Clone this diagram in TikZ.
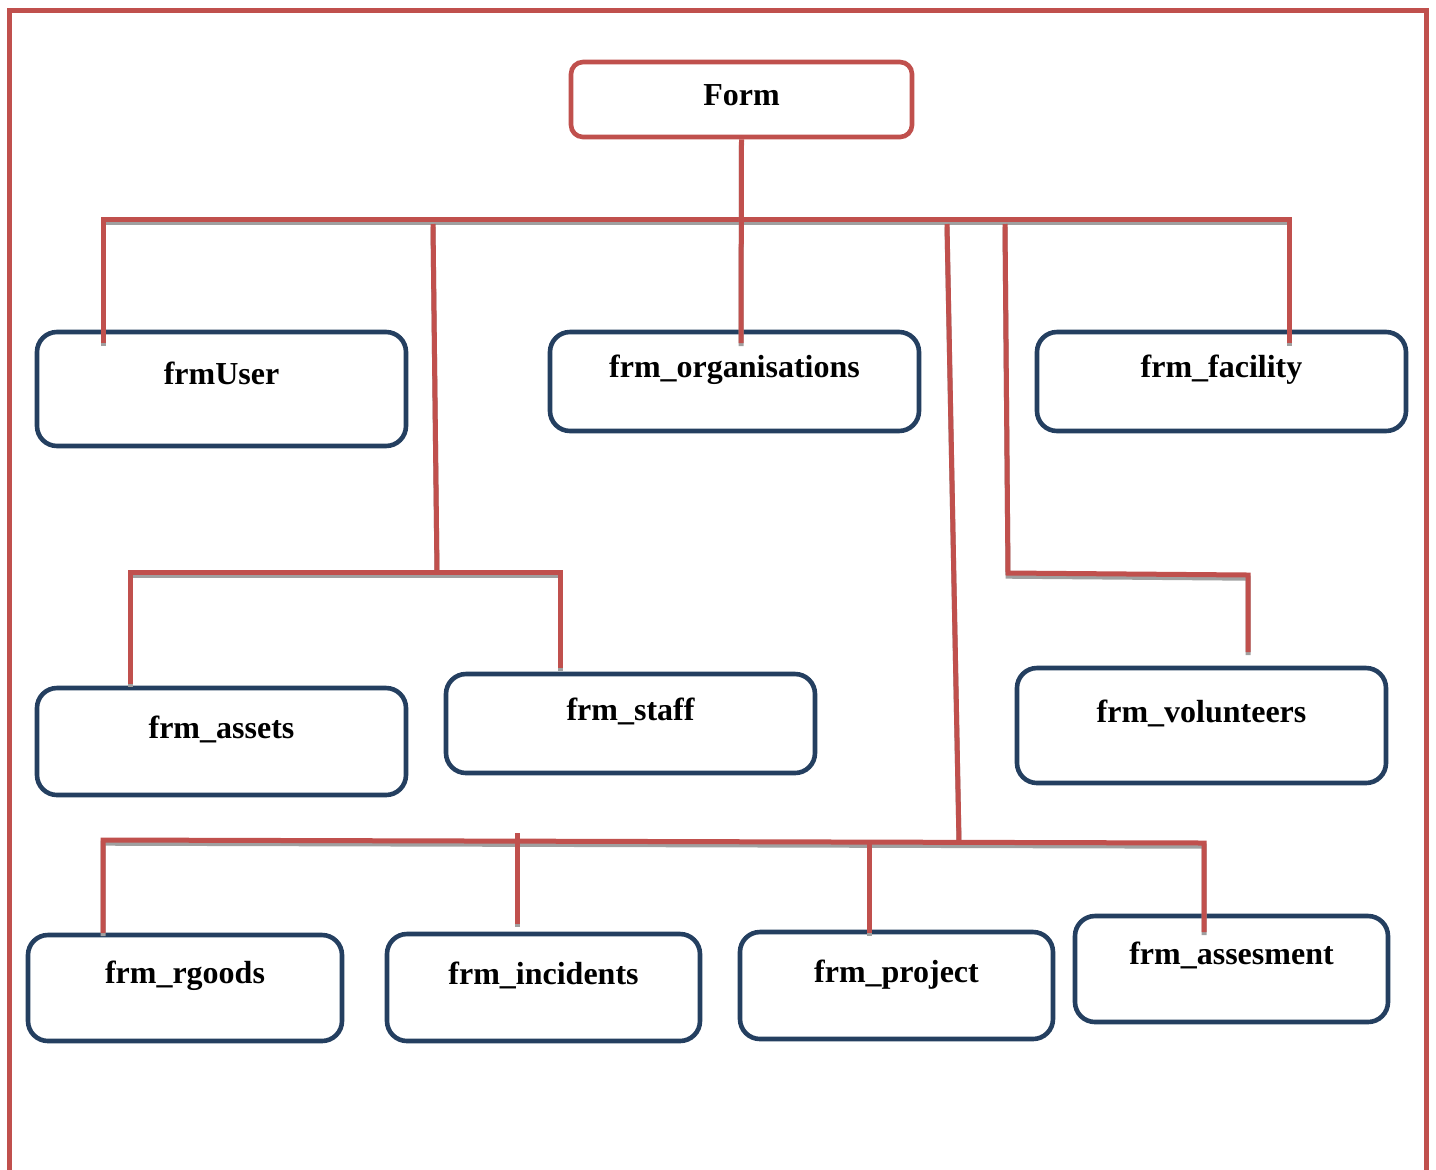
\documentclass[tikz,border=0pt]{standalone}
\usepackage{fontspec}
\setmainfont{Liberation Serif}
\definecolor{linered}{HTML}{C0504D}
\definecolor{boxnavy}{HTML}{243F60}
\definecolor{shadowgray}{HTML}{A0A0A0}
\newcommand\cpath[1]{%
  \begin{scope}[transform canvas={yshift=-1.6pt}]\draw[shadowline] #1;\end{scope}%
  \draw[conn] #1;}
\begin{document}
\begin{tikzpicture}[x=0.5pt,y=-0.5pt,
  box/.style={draw=boxnavy, line width=2.3pt, rounded corners=10pt, inner sep=0pt, fill=white,
    font=\fontsize{16}{19}\selectfont\bfseries, minimum width=184.5pt},
  topbox/.style={box, draw=linered, rounded corners=6pt},
  conn/.style={draw=linered, line width=2.5pt},
  shadowline/.style={draw=shadowgray, line width=2.5pt},
  frame/.style={draw=linered, line width=2.5pt}]
\useasboundingbox (0,0) rectangle (1436,1169);
\fill[white] (0,0) rectangle (1436,1169);
% outer frame
\draw[frame] (9.5,1175) -- (9.5,10.5) -- (1426,10.5) -- (1426,1175);

% nodes
\node[topbox, minimum width=170.5pt, minimum height=37.5pt, text height=21.5pt, text depth=16pt] (form) at (741.5,99.5) {Form};
\node[box, minimum height=57pt, text height=26pt, text depth=31pt] (user) at (221.5,389) {frmUser};
\node[box, minimum height=49.5pt, text height=22.5pt, text depth=27pt] (org) at (734.5,381.5) {frm\_organisations};
\node[box, minimum height=49.5pt, text height=22.5pt, text depth=27pt] (fac) at (1221.5,381.5) {frm\_facility};
\node[box, minimum height=53.5pt, text height=25pt, text depth=28.5pt] (assets) at (221.5,741.5) {frm\_assets};
\node[box, minimum height=49.5pt, text height=23pt, text depth=26.5pt] (staff) at (630.5,723.5) {frm\_staff};
\node[box, minimum height=57.5pt, text height=27pt, text depth=30.5pt] (vol) at (1201.5,725.5) {frm\_volunteers};
\node[box, minimum width=157pt, minimum height=53pt, text height=24pt, text depth=29pt] (rgoods) at (185,988) {frm\_rgoods};
\node[box, minimum width=156.5pt, minimum height=53.5pt, text height=25pt, text depth=28.5pt] (incid) at (543.5,987.5) {frm\_incidents};
\node[box, minimum width=156.5pt, minimum height=53.5pt, text height=25pt, text depth=28.5pt] (proj) at (896.5,985.5) {frm\_project};
\node[box, minimum width=156.5pt, minimum height=53pt, text height=24pt, text depth=29pt] (asses) at (1231.5,969) {frm\_assesment};

% connector coordinates
\coordinate (uIn) at (103,343);
\coordinate (barL) at (103,219.5);
\coordinate (barR) at (1289,219.5);
\coordinate (fIn) at (1289,343);
\coordinate (oIn) at (741,343);
\coordinate (b1top) at (433,224);
\coordinate (b1) at (437,572);
\coordinate (aIn) at (130,684);
\coordinate (aTop) at (130,572);
\coordinate (sTop) at (560,572);
\coordinate (sIn) at (560,668);
\coordinate (b2top) at (947,224);
\coordinate (b2) at (959,841);
\coordinate (rIn) at (103,933);
\coordinate (rTop) at (103,840);
\coordinate (asTop) at (1204,843);
\coordinate (asIn) at (1204,932);
\coordinate (iTop) at (517,833);
\coordinate (iIn) at (517,924);
\coordinate (pTop) at (869,842);
\coordinate (pIn) at (869,933);
\coordinate (b3top) at (1005,224);
\coordinate (b3) at (1008,573);
\coordinate (vTop) at (1248,575);
\coordinate (vIn) at (1248,652);

% connectors
\cpath{(uIn) -- (barL) -- (barR) -- (fIn)}
\cpath{(form.south) -- (oIn)}
\cpath{(b1top) -- (b1)}
\cpath{(aIn) -- (aTop) -- (sTop) -- (sIn)}
\cpath{(b2top) -- (b2)}
\cpath{(rIn) -- (rTop) -- (asTop) -- (asIn)}
\cpath{(iTop) -- (iIn)}
\cpath{(pTop) -- (pIn)}
\cpath{(b3top) -- (b3) -- (vTop) -- (vIn)}
\end{tikzpicture}
\end{document}
